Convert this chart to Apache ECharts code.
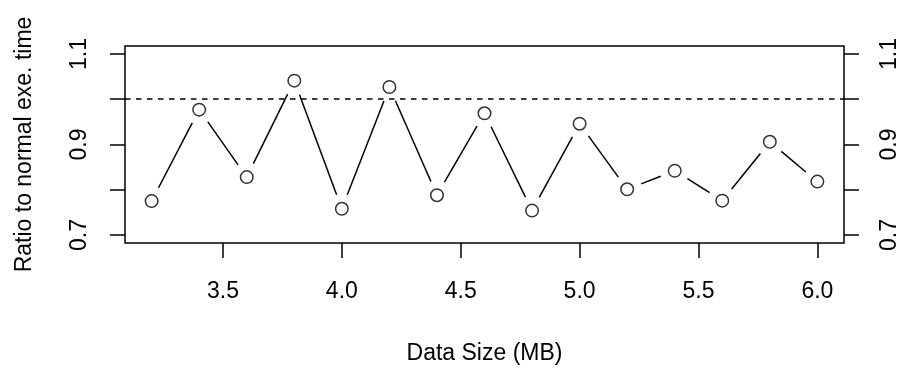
<!DOCTYPE html>
<html>
<head>
<meta charset="utf-8">
<script src="https://cdn.jsdelivr.net/npm/echarts@6/dist/echarts.min.js"></script>
<style>
  html, body { margin: 0; padding: 0; background: #fff; }
  #chart-container { width: 902px; height: 370px; }
</style>
</head>
<body>
<div id="chart-container"></div>
<script>
// Data
const dataSizes = [3.2, 3.4, 3.6, 3.8, 4.0, 4.2, 4.4, 4.6, 4.8, 5.0, 5.2, 5.4, 5.6, 5.8, 6.0];
const ratios = [0.775, 0.977, 0.828, 1.041, 0.758, 1.027, 0.788, 0.969, 0.754, 0.946, 0.801, 0.842, 0.776, 0.906, 0.818];
const xTicks = [3.5, 4.0, 4.5, 5.0, 5.5, 6.0];
const yTicks = [0.7, 0.8, 0.9, 1.0, 1.1];
const yLabels = [0.7, 0.9, 1.1];
const baseline = 1.0;

const font = 'Liberation Sans, Arial, Helvetica, sans-serif';
const black = '#000';

const container = echarts.init(document.getElementById('chart-container'));

// Points and the segments between them (type = "b": lines stop short of the circles)
const points = dataSizes.map((x, i) => [x, ratios[i]]);
let segments = [];
for (let i = 0; i < points.length - 1; i++) {
    segments.push([points[i][0], points[i][1], points[i + 1][0], points[i + 1][1]]);
}

const GAP = 15;
const renderSegment = (params, api) => {
    const a = api.coord([api.value(0), api.value(1)]);
    const b = api.coord([api.value(2), api.value(3)]);
    const dx = b[0] - a[0], dy = b[1] - a[1];
    const len = Math.sqrt(dx * dx + dy * dy);
    if (len <= 2 * GAP) return null;
    const ux = dx / len, uy = dy / len;
    return {
        type: 'line',
        shape: {
            x1: a[0] + ux * GAP, y1: a[1] + uy * GAP,
            x2: b[0] - ux * GAP, y2: b[1] - uy * GAP
        },
        style: { stroke: black, lineWidth: 1.5 }
    };
};

const yAxisBase = (pos) => ({
    type: 'value',
    position: pos,
    min: 0.6824,
    max: 1.1176,
    splitLine: { show: false },
    axisLine: { show: false },
    axisTick: {
        show: true,
        customValues: yTicks,
        length: 15,
        lineStyle: { color: black, width: 1.5 }
    },
    axisLabel: {
        customValues: yLabels,
        rotate: 90,
        margin: 34,
        color: black,
        fontFamily: font,
        fontSize: 23,
        formatter: (v) => v.toFixed(1)
    }
});

const leftY = yAxisBase('left');
leftY.name = 'Ratio to normal exe. time';
leftY.nameLocation = 'middle';
leftY.nameGap = 89;
leftY.nameTextStyle = { color: black, fontFamily: font, fontSize: 23 };

const cfg = {
    animation: false,
    grid: {
        left: 125, right: 58, top: 46, bottom: 119,
        show: true,
        borderColor: black,
        borderWidth: 1.5,
        backgroundColor: 'transparent'
    },
    xAxis: {
        type: 'value',
        min: 3.088,
        max: 6.112,
        splitLine: { show: false },
        axisLine: { show: false },
        axisTick: {
            show: true,
            customValues: xTicks,
            length: 15,
            lineStyle: { color: black, width: 1.5 }
        },
        axisLabel: {
            customValues: xTicks,
            margin: 37,
            color: black,
            fontFamily: font,
            fontSize: 23,
            formatter: (v) => v.toFixed(1)
        },
        name: 'Data Size (MB)',
        nameLocation: 'middle',
        nameGap: 99,
        nameTextStyle: { color: black, fontFamily: font, fontSize: 23 }
    },
    yAxis: [leftY, yAxisBase('right')],
    series: [
        {
            type: 'custom',
            renderItem: renderSegment,
            data: segments,
            encode: { x: [0, 2], y: [1, 3] },
            silent: true,
            z: 2
        },
        {
            type: 'scatter',
            data: points,
            symbol: 'circle',
            symbolSize: 12.5,
            itemStyle: { color: '#fff', borderColor: black, borderWidth: 1.5 },
            silent: true,
            z: 3,
            markLine: {
                silent: true,
                symbol: 'none',
                label: { show: false },
                lineStyle: { color: black, width: 1.5, type: [5.5, 5.5] },
                data: [{ yAxis: baseline }]
            }
        }
    ]
};

container.setOption(cfg);
</script>
</body>
</html>
